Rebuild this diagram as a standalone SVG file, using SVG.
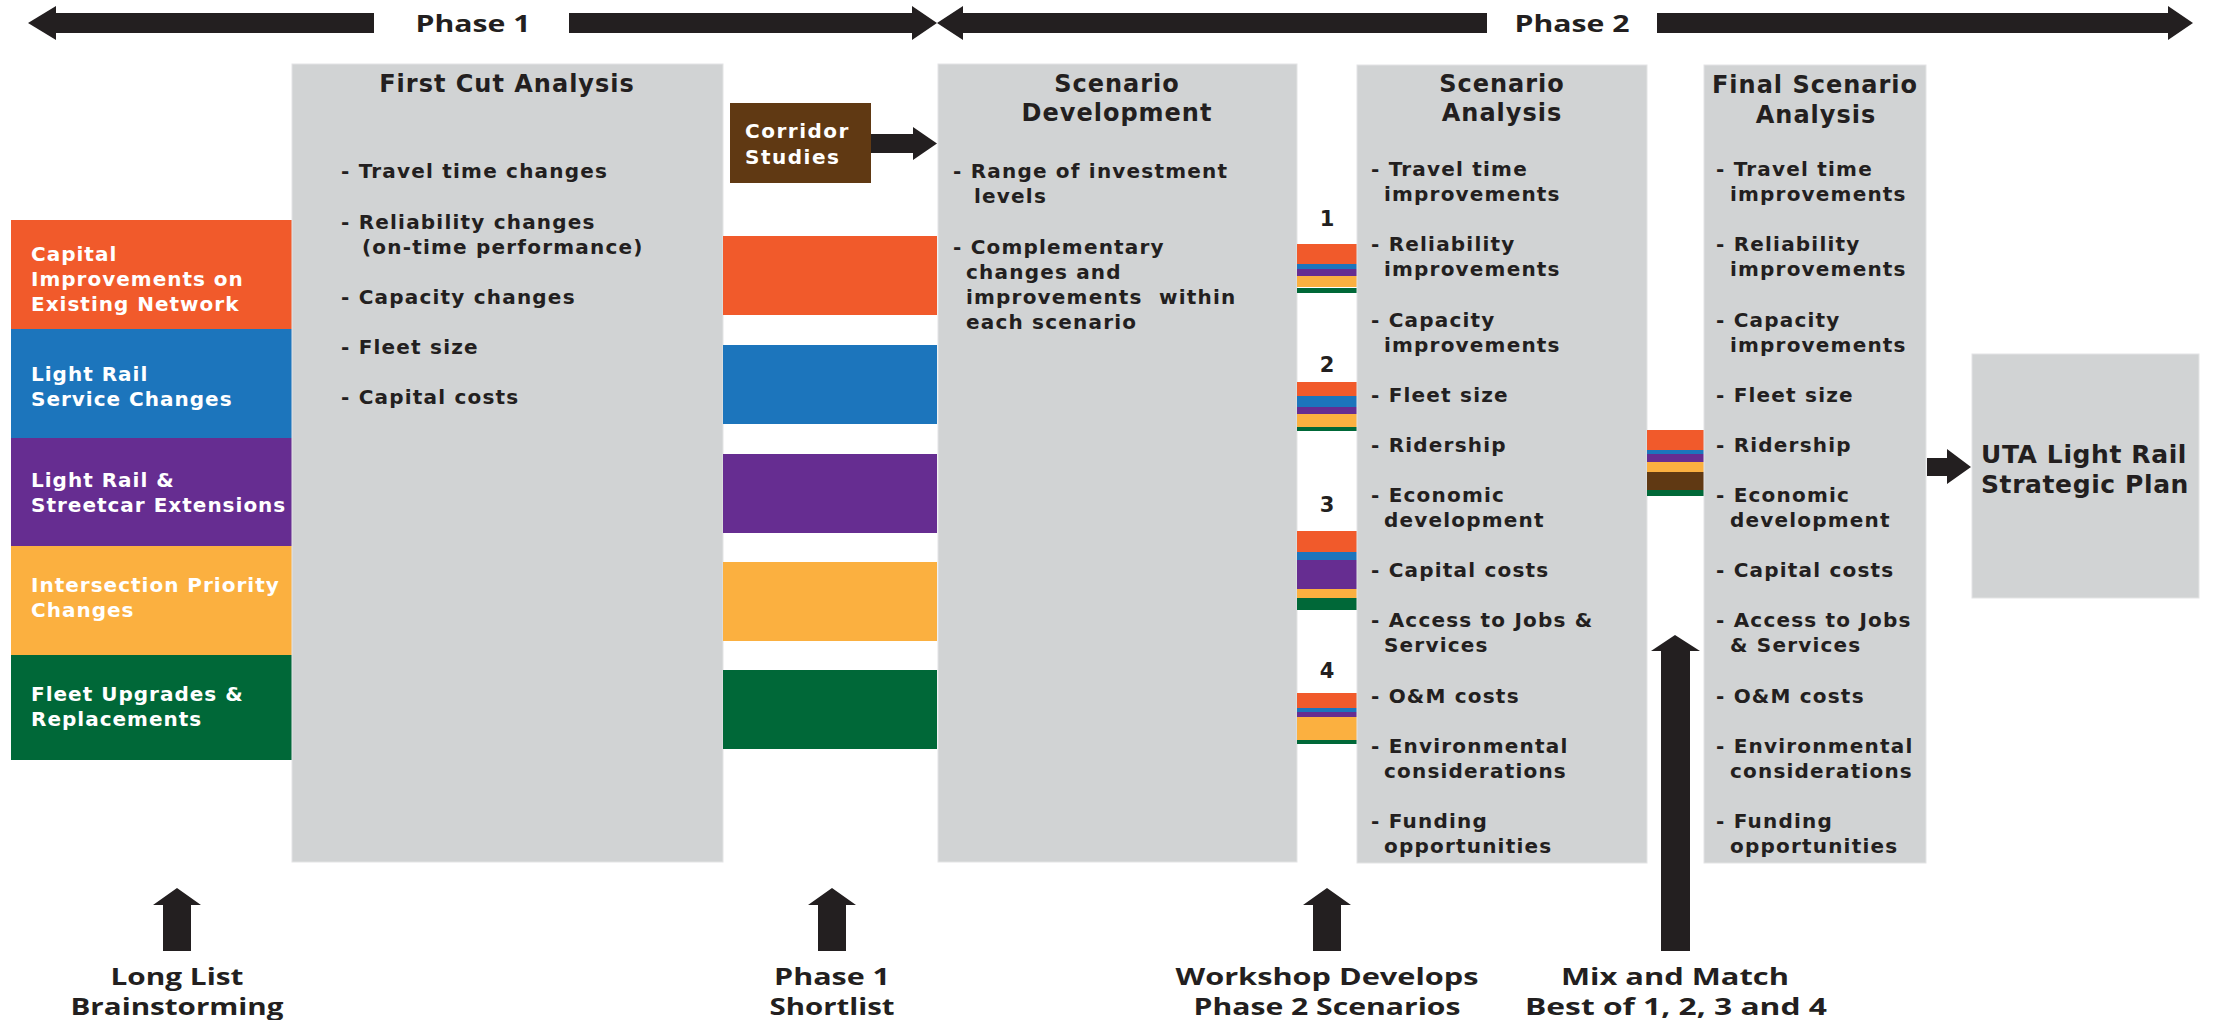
<svg xmlns="http://www.w3.org/2000/svg" width="2214" height="1020" viewBox="0 0 2214 1020">
<style>
.bg{fill:#D1D3D4;stroke:#E3E4E5;stroke-width:1}
.t{font-family:"DejaVu Sans",sans-serif;font-weight:bold;font-size:20px;fill:#231F20;letter-spacing:1.2px}
.w{font-family:"DejaVu Sans",sans-serif;font-weight:bold;font-size:20px;fill:#FFFFFF;letter-spacing:1px}
.h{font-family:"DejaVu Sans",sans-serif;font-weight:bold;font-size:24px;fill:#231F20;text-anchor:middle;letter-spacing:1px}
.n{font-family:"DejaVu Sans",sans-serif;font-weight:bold;font-size:21px;fill:#231F20;text-anchor:middle}
.u{font-family:"DejaVu Sans",sans-serif;font-weight:bold;font-size:25px;fill:#231F20;letter-spacing:0.6px}
.p{font-family:"Open Sans","DejaVu Sans",sans-serif;font-weight:bold;font-size:24px;fill:#231F20;text-anchor:middle}
.ar{fill:#231F20}
.o{fill:#F15A2B}.b{fill:#1C75BC}.v{fill:#662D91}.y{fill:#FBB040}.g{fill:#006838}.br{fill:#603913}
</style>

<g id="phase-arrows">
  <polygon class="ar" points="28,23 56,6 56,40"/>
  <rect class="ar" x="55" y="13" width="319" height="20"/>
  <rect class="ar" x="569" y="13" width="344" height="20"/>
  <polygon class="ar" points="912,6 937,23 912,40"/>
  <text class="p" x="473" y="32" textLength="115" lengthAdjust="spacingAndGlyphs">Phase 1</text>
  <polygon class="ar" points="937,23 963,6 963,40"/>
  <rect class="ar" x="962" y="13" width="525" height="20"/>
  <rect class="ar" x="1657" y="13" width="512" height="20"/>
  <polygon class="ar" points="2168,6 2193,23 2168,40"/>
  <text class="p" x="1572" y="32" textLength="115" lengthAdjust="spacingAndGlyphs">Phase 2</text>
</g>

<g id="long-list">
  <rect class="o" x="11" y="220" width="281" height="109"/>
  <rect class="b" x="11" y="329" width="281" height="109"/>
  <rect class="v" x="11" y="438" width="281" height="108"/>
  <rect class="y" x="11" y="546" width="281" height="109"/>
  <rect class="g" x="11" y="655" width="281" height="105"/>
  <text class="w" x="31" y="261">Capital</text>
  <text class="w" x="31" y="286">Improvements on</text>
  <text class="w" x="31" y="311">Existing Network</text>
  <text class="w" x="31" y="381">Light Rail</text>
  <text class="w" x="31" y="406">Service Changes</text>
  <text class="w" x="31" y="487">Light Rail &amp;</text>
  <text class="w" x="31" y="512">Streetcar Extensions</text>
  <text class="w" x="31" y="592">Intersection Priority</text>
  <text class="w" x="31" y="617">Changes</text>
  <text class="w" x="31" y="701">Fleet Upgrades &amp;</text>
  <text class="w" x="31" y="726">Replacements</text>
</g>

<g id="first-cut-analysis">
  <rect class="bg" x="292" y="64" width="431" height="798"/>
  <text class="h" x="507" y="92">First Cut Analysis</text>
  <text class="t" x="341" y="178">- Travel time changes</text>
  <text class="t" x="341" y="229">- Reliability changes</text>
  <text class="t" x="362" y="254">(on-time performance)</text>
  <text class="t" x="341" y="304">- Capacity changes</text>
  <text class="t" x="341" y="354">- Fleet size</text>
  <text class="t" x="341" y="404">- Capital costs</text>
</g>

<g id="shortlist-bars">
  <rect class="o" x="723" y="236" width="214" height="79"/>
  <rect class="b" x="723" y="345" width="214" height="79"/>
  <rect class="v" x="723" y="454" width="214" height="79"/>
  <rect class="y" x="723" y="562" width="214" height="79"/>
  <rect class="g" x="723" y="670" width="214" height="79"/>
</g>

<g id="corridor-studies">
  <rect class="br" x="730" y="103" width="141" height="80"/>
  <text class="w" x="745" y="138" style="letter-spacing:1.5px">Corridor</text>
  <text class="w" x="745" y="164" style="letter-spacing:1.5px">Studies</text>
</g>

<g id="scenario-development">
  <rect class="bg" x="938" y="64" width="359" height="798"/>
  <text class="h" x="1117" y="92">Scenario</text>
  <text class="h" x="1117" y="121">Development</text>
  <text class="t" x="953" y="178">- Range of investment</text>
  <text class="t" x="974" y="203">levels</text>
  <text class="t" x="953" y="254">- Complementary</text>
  <text class="t" x="966" y="279">changes and</text>
  <text class="t" x="966" y="304" xml:space="preserve">improvements  within</text>
  <text class="t" x="966" y="329">each scenario</text>
</g>

<g id="scenarios-1-4">
  <text class="n" x="1327" y="226">1</text>
  <rect class="o" x="1297" y="244" width="60" height="20"/>
  <rect class="b" x="1297" y="264" width="60" height="5"/>
  <rect class="v" x="1297" y="269" width="60" height="7"/>
  <rect class="y" x="1297" y="276" width="60" height="11"/>
  <rect class="g" x="1297" y="288" width="60" height="5"/>
  <text class="n" x="1327" y="372">2</text>
  <rect class="o" x="1297" y="382" width="60" height="14"/>
  <rect class="b" x="1297" y="396" width="60" height="11"/>
  <rect class="v" x="1297" y="407" width="60" height="7"/>
  <rect class="y" x="1297" y="414" width="60" height="13"/>
  <rect class="g" x="1297" y="427" width="60" height="4"/>
  <text class="n" x="1327" y="512">3</text>
  <rect class="o" x="1297" y="531" width="60" height="21"/>
  <rect class="b" x="1297" y="552" width="60" height="8"/>
  <rect class="v" x="1297" y="560" width="60" height="29"/>
  <rect class="y" x="1297" y="589" width="60" height="9"/>
  <rect class="g" x="1297" y="598" width="60" height="12"/>
  <text class="n" x="1327" y="678">4</text>
  <rect class="o" x="1297" y="693" width="60" height="15"/>
  <rect class="b" x="1297" y="708" width="60" height="4"/>
  <rect class="v" x="1297" y="712" width="60" height="5"/>
  <rect class="y" x="1297" y="717" width="60" height="23"/>
  <rect class="g" x="1297" y="740" width="60" height="4"/>
</g>

<g id="scenario-analysis">
  <rect class="bg" x="1357" y="65" width="290" height="798"/>
  <text class="h" x="1502" y="92">Scenario</text>
  <text class="h" x="1502" y="121">Analysis</text>
  <text class="t" x="1371" y="176">- Travel time</text>
  <text class="t" x="1384" y="201">improvements</text>
  <text class="t" x="1371" y="251">- Reliability</text>
  <text class="t" x="1384" y="276">improvements</text>
  <text class="t" x="1371" y="327">- Capacity</text>
  <text class="t" x="1384" y="352">improvements</text>
  <text class="t" x="1371" y="402">- Fleet size</text>
  <text class="t" x="1371" y="452">- Ridership</text>
  <text class="t" x="1371" y="502">- Economic</text>
  <text class="t" x="1384" y="527">development</text>
  <text class="t" x="1371" y="577">- Capital costs</text>
  <text class="t" x="1371" y="627">- Access to Jobs &amp;</text>
  <text class="t" x="1384" y="652">Services</text>
  <text class="t" x="1371" y="703">- O&amp;M costs</text>
  <text class="t" x="1371" y="753">- Environmental</text>
  <text class="t" x="1384" y="778">considerations</text>
  <text class="t" x="1371" y="828">- Funding</text>
  <text class="t" x="1384" y="853">opportunities</text>
</g>

<g id="mix-bar">
  <rect class="o" x="1647" y="430" width="57" height="20"/>
  <rect class="b" x="1647" y="450" width="57" height="4"/>
  <rect class="v" x="1647" y="454" width="57" height="8"/>
  <rect class="y" x="1647" y="462" width="57" height="10"/>
  <rect class="br" x="1647" y="472" width="57" height="18"/>
  <rect class="g" x="1647" y="490" width="57" height="6"/>
</g>

<g id="final-scenario-analysis">
  <rect class="bg" x="1704" y="65" width="222" height="798"/>
  <text class="h" x="1815" y="93">Final Scenario</text>
  <text class="h" x="1816" y="123">Analysis</text>
  <text class="t" x="1716" y="176">- Travel time</text>
  <text class="t" x="1730" y="201">improvements</text>
  <text class="t" x="1716" y="251">- Reliability</text>
  <text class="t" x="1730" y="276">improvements</text>
  <text class="t" x="1716" y="327">- Capacity</text>
  <text class="t" x="1730" y="352">improvements</text>
  <text class="t" x="1716" y="402">- Fleet size</text>
  <text class="t" x="1716" y="452">- Ridership</text>
  <text class="t" x="1716" y="502">- Economic</text>
  <text class="t" x="1730" y="527">development</text>
  <text class="t" x="1716" y="577">- Capital costs</text>
  <text class="t" x="1716" y="627">- Access to Jobs</text>
  <text class="t" x="1730" y="652">&amp; Services</text>
  <text class="t" x="1716" y="703">- O&amp;M costs</text>
  <text class="t" x="1716" y="753">- Environmental</text>
  <text class="t" x="1730" y="778">considerations</text>
  <text class="t" x="1716" y="828">- Funding</text>
  <text class="t" x="1730" y="853">opportunities</text>
</g>

<g id="uta-plan">
  <rect class="bg" x="1972" y="354" width="227" height="244"/>
  <text class="u" x="1981" y="463">UTA Light Rail</text>
  <text class="u" x="1981" y="493">Strategic Plan</text>
</g>

<g id="connectors">
  <polygon class="ar" points="871,134 913,134 913,127 937,143.5 913,160 913,153 871,153"/>
  <polygon class="ar" points="1927,458 1947,458 1947,449 1971,467 1947,484 1947,476 1927,476"/>
  <polygon class="ar" points="177,888 201,905 191,905 191,951 163,951 163,905 153,905"/>
  <polygon class="ar" points="832,888 856,905 846,905 846,951 818,951 818,905 808,905"/>
  <polygon class="ar" points="1327,888 1351,905 1341,905 1341,951 1313,951 1313,905 1303,905"/>
  <polygon class="ar" points="1675,635 1700,651 1690,651 1690,951 1661,951 1661,651 1651,651"/>
</g>

<g id="bottom-labels">
  <text class="p" x="177" y="985" textLength="133" lengthAdjust="spacingAndGlyphs">Long List</text>
  <text class="p" x="177" y="1015" textLength="213" lengthAdjust="spacingAndGlyphs">Brainstorming</text>
  <text class="p" x="832" y="985" textLength="116" lengthAdjust="spacingAndGlyphs">Phase 1</text>
  <text class="p" x="832" y="1015" textLength="125" lengthAdjust="spacingAndGlyphs">Shortlist</text>
  <text class="p" x="1327" y="985" textLength="303" lengthAdjust="spacingAndGlyphs">Workshop Develops</text>
  <text class="p" x="1327" y="1015" textLength="267" lengthAdjust="spacingAndGlyphs">Phase 2 Scenarios</text>
  <text class="p" x="1675" y="985" textLength="228" lengthAdjust="spacingAndGlyphs">Mix and Match</text>
  <text class="p" x="1676" y="1015" textLength="302" lengthAdjust="spacingAndGlyphs">Best of 1, 2, 3 and 4</text>
</g>
</svg>
